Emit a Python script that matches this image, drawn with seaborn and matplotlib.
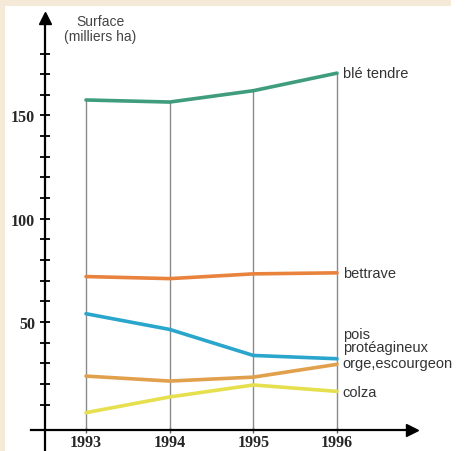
import numpy as np
import pandas as pd
import matplotlib
matplotlib.use('Agg')
import matplotlib.pyplot as plt
from matplotlib.patches import Rectangle
import seaborn as sns

# Données (milliers ha)
annees = [1993, 1994, 1995, 1996]
ble_tendre = [157.5, 156.5, 162, 170.5]
bettrave = [72, 71, 73.3, 73.8]
pois = [54, 46.4, 33.8, 32.2]
orge = [23.8, 21.4, 23.3, 29.5]
colza = [6.1, 13.7, 19.5, 16.4]

cultures = ['blé tendre', 'bettrave', 'pois\nprotéagineux', 'orge,escourgeon', 'colza']
series = [ble_tendre, bettrave, pois, orge, colza]
couleurs = ['#3f9c7c', '#e8823c', '#2aa6cc', '#e0a04c', '#e6df4e']
# position verticale des étiquettes à droite
pos_labels = [170.5, 73.8, 41, 30.2, 16]

df = pd.DataFrame({
    'Annee': annees * len(cultures),
    'Surface': sum(series, []),
    'Culture': np.repeat(cultures, len(annees)),
})

sns.set_style('white')
plt.rcParams['font.family'] = ['Liberation Sans', 'DejaVu Sans']

fig = plt.figure(figsize=(4.65, 4.52), dpi=100)
fig.patch.set_facecolor('white')
# bandes beiges du cadre
beige = '#f5e9d7'
fig.patches.append(Rectangle((0, 0), 5 / 465, 1, transform=fig.transFigure,
                             facecolor=beige, edgecolor='none', zorder=5))
fig.patches.append(Rectangle((0, 1 - 7 / 452), 451 / 465, 7 / 452, transform=fig.transFigure,
                             facecolor=beige, edgecolor='none', zorder=5))

ax = fig.add_axes([0, 0, 1, 1])
ax.patch.set_alpha(0)

# traits verticaux gris
ax.vlines(annees, -2.3, ble_tendre, color='#8a8a8a', lw=1, zorder=1)

sns.lineplot(data=df, x='Annee', y='Surface', hue='Culture', palette=dict(zip(cultures, couleurs)),
             lw=2.6, ax=ax, legend=False, zorder=3)

ax.set_xlim(1991.972, 1997.53)
ax.set_ylim(-12.47, 206.4)

# axes avec flèches
for s in ['top', 'right']:
    ax.spines[s].set_visible(False)
ax.spines['left'].set_position(('data', 1992.51))
ax.spines['left'].set_bounds(-12.47, 194)
ax.spines['bottom'].set_position(('data', -2.3))
ax.spines['bottom'].set_bounds(1992.34, 1996.85)
for s in ['left', 'bottom']:
    ax.spines[s].set_color('black')
    ax.spines[s].set_linewidth(1.6)
ax.plot([1992.51], [197], marker='^', color='black', ms=9, clip_on=False)
ax.plot([1996.9], [-2.3], marker='>', color='black', ms=9, clip_on=False)

ax.set_yticks([50, 100, 150])
ax.set_yticks(np.arange(10, 190, 10), minor=True)
ax.set_xticks(annees)
ax.tick_params(axis='y', which='both', direction='inout', length=7, width=1.3, color='black', left=True)
ax.tick_params(axis='x', direction='inout', length=5, width=1, color='#666666', bottom=True, pad=0.5)
for lab in ax.get_yticklabels() + ax.get_xticklabels():
    lab.set_family('Liberation Serif')
    lab.set_weight('bold')
    lab.set_fontsize(11.5)
ax.set_xlabel('')
ax.set_ylabel('')

# étiquettes des cultures
for nom, y in zip(cultures, pos_labels):
    ax.text(1996.07, y, nom, ha='left', va='center', fontsize=10.5, color='#333333', linespacing=0.95)

ax.text(1993.17, 192, 'Surface\n(milliers ha)', ha='center', va='center', fontsize=10,
        color='#444444', linespacing=1.05)

fig.savefig('out.png', dpi=100)
